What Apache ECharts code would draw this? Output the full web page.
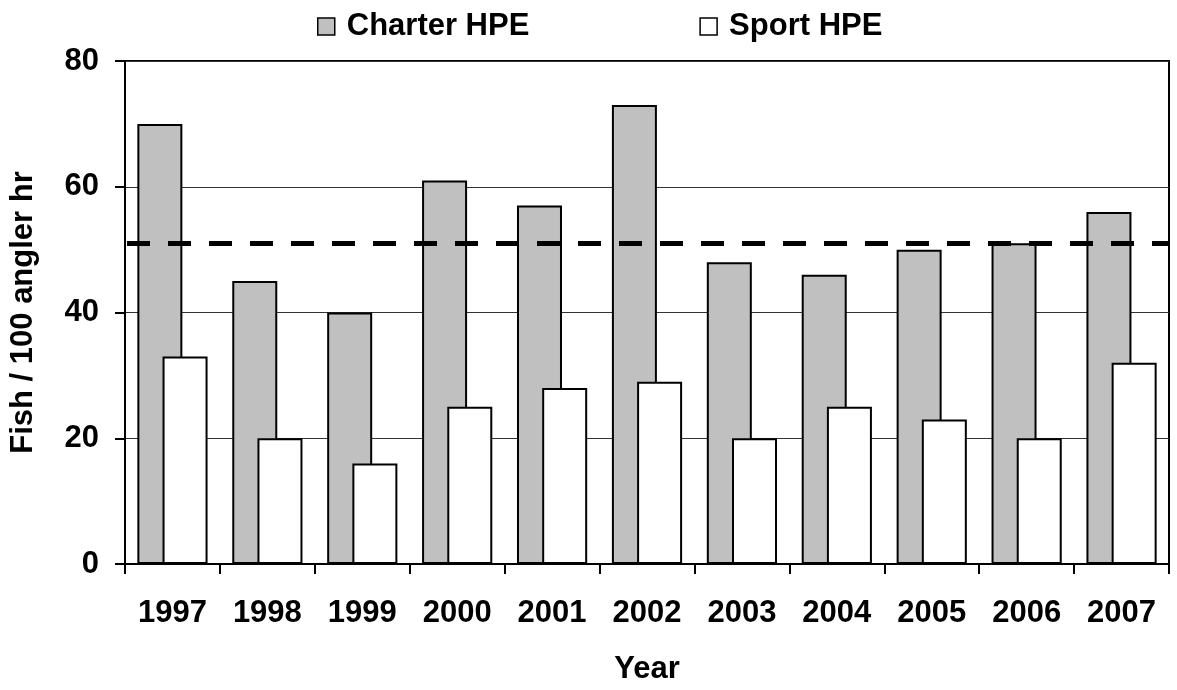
<!DOCTYPE html>
<html>
<head>
<meta charset="utf-8">
<script src="https://cdn.jsdelivr.net/npm/echarts@6/dist/echarts.min.js"></script>
<style>
html,body{margin:0;padding:0;background:#fff;}
#chart{width:1177px;height:690px;}
</style>
</head>
<body>
<div id="chart"></div>
<script>
var years = ['1997','1998','1999','2000','2001','2002','2003','2004','2005','2006','2007'];
var charterHPE = [70, 45, 40, 61, 57, 73, 48, 46, 50, 51, 56];
var sportHPE = [33, 20, 16, 25, 28, 29, 20, 25, 23, 20, 32];
var referenceLevel = 51;
var yTicks = [0, 20, 40, 60, 80];

var FONT = '"Liberation Sans", Arial, sans-serif';
var FS = 31;
var chart = echarts.init(document.getElementById('chart'), null, {renderer: 'canvas'});
chart.setOption({
  animation: false,
  backgroundColor: '#fff',
  textStyle: {fontFamily: FONT},
  legend: {
    left: 312, top: 6,
    itemWidth: 17, itemHeight: 17,
    itemGap: 170,
    icon: 'rect',
    data: ['Charter HPE', 'Sport HPE'],
    itemStyle: {borderColor: '#000', borderWidth: 1.5},
    textStyle: {fontFamily: FONT, fontWeight: 'bold', fontSize: FS, color: '#000', padding: [0,0,0,7]}
  },
  grid: {
    left: 124, right: 8, top: 61, bottom: 125,
    show: true, borderColor: '#000', borderWidth: 2, backgroundColor: 'transparent'
  },
  xAxis: {
    type: 'category',
    data: years,
    boundaryGap: true,
    name: 'Year',
    nameLocation: 'middle',
    nameGap: 90,
    nameTextStyle: {fontFamily: FONT, fontWeight: 'bold', fontSize: FS, color: '#000'},
    axisLine: {show: true, lineStyle: {color: '#000', width: 2}},
    axisTick: {show: true, length: 10, interval: 0, lineStyle: {color: '#000', width: 2}},
    axisLabel: {fontFamily: FONT, fontWeight: 'bold', fontSize: FS, color: '#000', margin: 34, interval: 0},
    splitLine: {show: false}
  },
  yAxis: {
    type: 'value',
    min: yTicks[0], max: yTicks[yTicks.length-1], interval: 20,
    name: 'Fish / 100 angler hr',
    nameLocation: 'middle',
    nameGap: 86,
    nameRotate: 90,
    nameTextStyle: {fontFamily: FONT, fontWeight: 'bold', fontSize: FS, color: '#000'},
    axisLine: {show: true, lineStyle: {color: '#000', width: 2}},
    axisTick: {show: true, inside: false, length: 10, lineStyle: {color: '#000', width: 2}},
    axisLabel: {fontFamily: FONT, fontWeight: 'bold', fontSize: FS, color: '#000', margin: 26},
    splitLine: {show: true, lineStyle: {color: '#333', width: 1}}
  },
  series: [
    {
      name: 'Charter HPE',
      type: 'bar',
      data: charterHPE,
      barWidth: 45,
      barGap: '-44%',
      itemStyle: {color: '#c0c0c0', borderColor: '#000', borderWidth: 2},
      markLine: {
        silent: true,
        symbol: ['none', 'none'],
        label: {show: false},
        lineStyle: {color: '#000', width: 5, type: [23, 18], dashOffset: -2},
        data: [{yAxis: referenceLevel}],
        z: 10
      }
    },
    {
      name: 'Sport HPE',
      type: 'bar',
      data: sportHPE,
      barWidth: 45,
      itemStyle: {color: '#ffffff', borderColor: '#000', borderWidth: 2}
    }
  ]
});
</script>
</body>
</html>
